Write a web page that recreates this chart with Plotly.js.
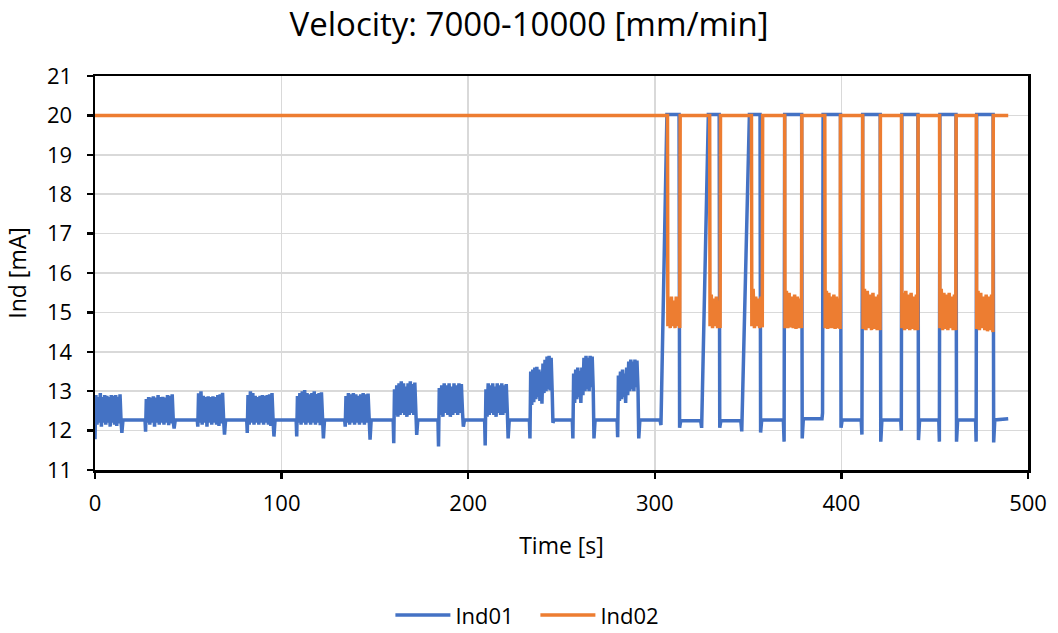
<!DOCTYPE html>
<html>
<head>
<meta charset="utf-8">
<script src="https://cdn.plot.ly/plotly-3.0.1.min.js"></script>
<style>html,body{margin:0;padding:0;background:#fff;}#chart{width:1058px;height:633px;}</style>
</head>
<body>
<div id="chart"></div>
<script>
// ---------- Ind01 (blue): breakpoints outside the noisy bursts ----------
const ind01BaseT = [
  0, 14.4, 15.0, 26.8, 27.1, 42.4, 43.0, 54.8, 55.1, 69.4, 70.0, 81.3, 81.6,
  95.9, 96.5, 107.8, 108.1, 122.4, 123.0, 133.8, 134.1, 147.4, 148.0, 159.8, 160.1,
  172.4, 173.0, 183.8, 184.1, 197.4, 198.0, 208.8, 209.1, 221.4, 222.0, 232.8, 233.1,
  245.4, 246.0, 255.8, 256.1, 267.4, 268.0, 279.8, 280.1, 291.4, 292.0,
  302.8, 303.3, 306.5, 313.0, 313.3, 313.9, 324.6, 325.1, 328.7, 334.5, 334.8, 335.4,
  346.1, 346.6, 350.7, 356.4, 356.7, 357.3, 368.9, 369.3, 369.6, 378.7, 379.0, 379.6,
  389.6, 389.9, 390.2, 399.5, 399.8, 400.4, 410.6, 411.0, 411.4, 420.8, 421.1, 421.7,
  431.8, 432.1, 432.4, 441.0, 441.3, 441.9, 452.2, 452.5, 452.8, 461.4, 461.7, 462.3,
  471.9, 472.2, 472.5, 481.3, 481.6, 482.2, 489.4
];
const ind01BaseV = [
  11.78, 11.94, 12.27, 12.27, 11.97, 12.05, 12.27, 12.27, 12.10, 11.90, 12.27, 12.27, 11.94,
  11.85, 12.27, 12.27, 11.85, 11.80, 12.27, 12.27, 12.10, 11.77, 12.27, 12.27, 11.68,
  11.89, 12.27, 12.27, 11.60, 12.10, 12.27, 12.27, 11.62, 11.80, 12.27, 12.27, 11.80,
  12.20, 12.27, 12.27, 11.80, 11.80, 12.27, 12.27, 11.83, 11.80, 12.27,
  12.27, 12.14, 20.02, 20.02, 12.07, 12.25, 12.25, 12.07, 20.02, 20.02, 12.07, 12.25,
  12.25, 11.98, 20.02, 20.02, 11.95, 12.27, 12.27, 11.72, 20.02, 20.02, 11.80, 12.30,
  12.30, 12.45, 20.02, 20.02, 12.07, 12.27, 12.27, 11.90, 20.02, 20.02, 11.72, 12.27,
  12.27, 12.00, 20.02, 20.02, 11.76, 12.27, 12.27, 11.72, 20.02, 20.02, 11.72, 12.27,
  12.27, 11.72, 20.02, 20.02, 11.70, 12.27, 12.30
];
// Noisy bursts of Ind01 (sampled evenly between start and end)
const ind01BurstStart = [0.5, 27.5, 55.5, 82.0, 108.5, 134.5, 160.5, 184.5, 209.5, 233.5, 256.5, 280.5];
const ind01BurstEnd   = [14.0, 42.0, 69.0, 95.5, 122.0, 147.0, 172.0, 197.0, 221.0, 245.0, 267.0, 291.0];
const ind01BurstVals = [
  [12.90,12.15,12.85,12.20,12.95,12.10,12.85,12.20,12.90,12.15,12.88,12.20,12.85,12.10,12.90,12.20,12.88,12.15,12.90,12.12,12.86,12.18,12.92,12.20],
  [12.80,12.20,12.85,12.15,12.84,12.20,12.87,12.10,12.84,12.20,12.90,12.15,12.85,12.20,12.86,12.15,12.84,12.20,12.90,12.14,12.88,12.18,12.92,12.20],
  [12.95,12.20,13.00,12.15,12.88,12.20,12.85,12.10,12.87,12.20,12.85,12.15,12.87,12.20,12.85,12.15,12.90,12.12,12.92,12.18,12.96,12.20],
  [12.90,12.15,13.00,12.20,12.95,12.15,12.88,12.20,12.85,12.15,12.88,12.20,12.90,12.15,12.88,12.20,12.90,12.15,12.92,12.12,12.95,12.20],
  [12.88,12.20,12.95,12.15,13.00,12.20,13.03,12.15,12.95,12.20,12.92,12.15,12.95,12.20,13.00,12.15,12.93,12.20,12.95,12.14,12.97,12.25],
  [12.88,12.20,12.95,12.15,12.92,12.20,12.95,12.15,12.92,12.20,12.88,12.15,12.92,12.20,12.95,12.15,12.92,12.20,12.94,12.22],
  [13.05,12.40,13.15,12.35,13.20,12.40,13.25,12.45,13.20,12.40,13.12,12.35,13.20,12.40,13.25,12.45,13.18,12.40,13.22,12.42],
  [13.08,12.40,13.15,12.35,13.20,12.45,13.15,12.40,13.20,12.35,13.12,12.40,13.20,12.45,13.15,12.40,13.20,12.45,13.18,12.42],
  [13.05,12.35,13.20,12.40,13.15,12.45,13.20,12.40,13.12,12.35,13.20,12.45,13.15,12.40,13.20,12.40,13.15,12.45,13.18,12.42],
  [13.50,12.65,13.55,12.72,13.60,12.80,13.62,12.85,13.55,12.75,13.50,12.68,13.70,12.95,13.80,13.00,13.88,13.05,13.90,13.02,13.85,13.00],
  [13.45,12.70,13.55,12.80,13.60,12.85,13.52,12.70,13.60,12.90,13.85,13.00,13.90,13.05,13.85,13.00,13.90,13.10,13.88,13.05],
  [13.40,12.75,13.50,12.80,13.55,12.85,13.45,12.70,13.60,12.90,13.75,13.00,13.80,13.05,13.75,13.00,13.80,13.10,13.78,13.05]
];

// ---------- Ind02 (orange): breakpoints outside the noisy bands ----------
const ind02BaseT = [0, 306.8, 313.6, 329.4, 335.2, 351.8, 357.8, 369.6, 378.8, 391.1, 399.5, 411.4, 420.9, 432.2, 441.1, 452.6, 461.5, 472.3, 481.4, 489.4];
const ind02BaseV = [20, 20, 20, 20, 20, 20, 20, 20, 20, 20, 20, 20, 20, 20, 20, 20, 20, 20, 20, 20];
const ind02BandStart = [307.0, 329.6, 352.0, 369.8, 391.3, 411.6, 432.4, 452.8, 472.5];
const ind02BandEnd   = [313.4, 335.0, 357.6, 378.6, 399.3, 420.7, 440.9, 461.3, 481.2];
const ind02BandVals = [
  [14.65,15.35,14.60,15.40,14.65,15.30,14.60,15.40,14.65,15.35,14.60],
  [14.65,15.45,14.60,15.35,14.65,15.40,14.60,15.30,14.60],
  [14.65,15.60,14.60,15.40,14.65,15.35,14.60,15.40,14.62],
  [14.60,15.55,14.60,15.50,14.62,15.40,14.60,15.45,14.58,15.40,14.60,15.35,14.60],
  [14.60,15.55,14.58,15.50,14.60,15.40,14.60,15.45,14.58,15.40,14.60,15.35,14.58],
  [14.58,15.60,14.55,15.55,14.60,15.45,14.55,15.50,14.58,15.40,14.55,15.45,14.55],
  [14.60,15.50,14.55,15.55,14.58,15.45,14.55,15.50,14.58,15.40,14.55,15.45,14.55],
  [14.60,15.60,14.55,15.50,14.58,15.45,14.55,15.50,14.60,15.40,14.55,15.45,14.55],
  [14.58,15.55,14.55,15.50,14.60,15.40,14.55,15.45,14.52,15.40,14.55,15.45,14.50]
];

const xTickVals = [0, 100, 200, 300, 400, 500];
const yTickVals = [11, 12, 13, 14, 15, 16, 17, 18, 19, 20, 21];

function buildSeries(baseT, baseV, starts, ends, vals) {
  const pts = baseT.map((t, i) => [t, baseV[i]]);
  starts.forEach((s, k) => {
    const v = vals[k];
    const n = v.length;
    v.forEach((y, j) => pts.push([s + (ends[k] - s) * j / (n - 1), y]));
  });
  pts.sort((a, b) => a[0] - b[0]);
  return { x: pts.map(p => p[0]), y: pts.map(p => p[1]) };
}

const s1 = buildSeries(ind01BaseT, ind01BaseV, ind01BurstStart, ind01BurstEnd, ind01BurstVals);
const s2 = buildSeries(ind02BaseT, ind02BaseV, ind02BandStart, ind02BandEnd, ind02BandVals);

const FONT = '"Open Sans", Lato, sans-serif';

const traces = [
  { type: 'scatter', mode: 'lines', name: 'Ind01', x: s1.x, y: s1.y,
    line: { color: '#4472C4', width: 3.5, simplify: false } },
  { type: 'scatter', mode: 'lines', name: 'Ind02', x: s2.x, y: s2.y,
    line: { color: '#ED7D31', width: 3.5, simplify: false } }
];

const axisCommon = {
  showline: true, linecolor: '#000', linewidth: 2.5, mirror: true,
  ticks: 'outside', ticklen: 6, tickwidth: 2.5, tickcolor: '#000',
  showgrid: true, gridcolor: '#d9d9d9', gridwidth: 1.5, zeroline: false,
  tickfont: { family: FONT, size: 22, color: '#000' }
};

const layout = {
  width: 1058, height: 633,
  paper_bgcolor: '#fff', plot_bgcolor: '#fff',
  margin: { l: 95, r: 30, t: 76, b: 163 },
  font: { family: FONT, color: '#000' },
  title: { text: 'Velocity: 7000-10000 [mm/min]', font: { family: FONT, size: 33, color: '#000' },
           x: 0.5, xref: 'container', xanchor: 'center', y: 0.962, yref: 'container', yanchor: 'middle' },
  xaxis: Object.assign({}, axisCommon, {
    range: [0, 500], tickvals: xTickVals, ticktext: xTickVals.map(String),
    ticklabelstandoff: 6,
    title: { text: 'Time [s]', font: { family: FONT, size: 23, color: '#000' }, standoff: 22 }
  }),
  yaxis: Object.assign({}, axisCommon, {
    range: [11, 21], tickvals: yTickVals, ticktext: yTickVals.map(String),
    ticklabelstandoff: 10,
    title: { text: 'Ind [mA]', font: { family: FONT, size: 23, color: '#000' }, standoff: 14 }
  }),
  showlegend: true,
  legend: { orientation: 'h', x: 0.369, xref: 'container', xanchor: 'left',
            y: 0.028, yref: 'container', yanchor: 'middle', entrywidth: 75,
            font: { family: FONT, size: 22, color: '#000' }, itemwidth: 55, bgcolor: 'rgba(0,0,0,0)' }
};

Plotly.newPlot('chart', traces, layout, { displayModeBar: false, staticPlot: true });
</script>
</body>
</html>
